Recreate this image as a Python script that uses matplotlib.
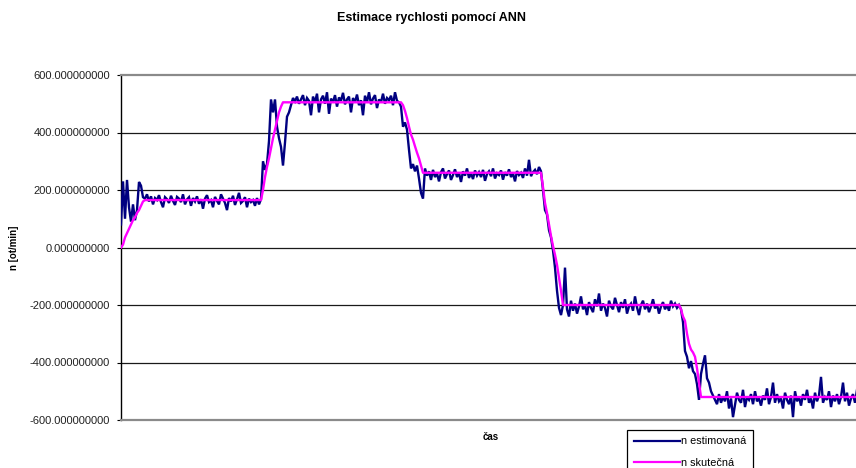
import matplotlib
matplotlib.use("Agg")
import matplotlib.pyplot as plt
import numpy as np
from matplotlib.ticker import FixedLocator, FuncFormatter

plt.rcParams['font.family'] = ['Liberation Sans', 'DejaVu Sans']

title = "Estimace rychlosti pomocí ANN"
ylabel = "n [ot/min]"
xlabel = "čas"
label_est = "n estimovaná"
label_ref = "n skutečná"
yticks = [-600, -400, -200, 0, 200, 400, 600]

# estimated speed from the network, one value per sample
n_est = [
    80, 230, 100, 235, 140, 90, 150, 95, 130, 228,
    215, 175, 170, 185, 160, 178, 150, 172, 165, 182,
    158, 140, 175, 168, 155, 180, 162, 148, 176, 170,
    158, 185, 150, 167, 175, 145, 172, 160, 178, 152,
    168, 135, 170, 182, 158, 165, 140, 176, 162, 150,
    185, 170, 155, 130, 172, 160, 180, 148, 168, 190,
    155, 162, 175, 140, 170, 158, 165, 145, 172, 150,
    168, 300, 270, 290, 370, 515, 470, 515, 420, 380,
    350, 285, 365, 455, 470, 495, 520, 508, 525, 500,
    515, 530, 495, 520, 510, 460, 525, 505, 535, 470,
    515, 528, 500, 540, 465, 518, 505, 530, 490, 522,
    510, 538, 498, 515, 525, 470, 520, 505, 532, 495,
    512, 460, 528, 505, 540, 498, 518, 530, 485, 515,
    505, 535, 500, 520, 512, 528, 495, 540, 510, 505,
    490, 420, 435, 410, 340, 275, 290, 265, 285, 240,
    190, 170, 275, 250, 265, 235, 270, 245, 258, 230,
    262, 275, 240, 255, 268, 235, 252, 272, 245, 260,
    228, 265, 250, 275, 242, 258, 238, 268, 250, 262,
    245, 270, 232, 255, 265, 248, 275, 240, 258, 252,
    268, 236, 262, 250, 272, 245, 258, 230, 266, 252,
    260, 242, 275, 250, 305, 248, 262, 270, 255, 280,
    265, 200, 130, 115, 60, 35, -10, -70, -150, -210,
    -235, -200, -70, -215, -240, -185, -220, -195, -230, -205,
    -170, -215, -200, -235, -190, -210, -225, -180, -205, -160,
    -220, -195, -210, -240, -185, -205, -215, -175, -200, -225,
    -190, -210, -180, -230, -205, -195, -220, -170, -208, -235,
    -200, -185, -215, -195, -225, -205, -180, -212, -198, -230,
    -205, -190, -215, -200, -220, -185, -205, -195, -210, -200,
    -215, -260, -360, -380, -420, -395, -430, -440, -475, -530,
    -440, -405, -375, -455, -470, -500, -515, -530, -545, -510,
    -540, -520, -535, -500, -560, -525, -590, -548, -505, -530,
    -540, -495, -555, -520, -530, -510, -545, -500, -535, -525,
    -550, -515, -530, -490, -545, -520, -470, -540, -510, -535,
    -525, -560, -505, -530, -545, -515, -590, -500, -535, -520,
    -550, -510, -530, -495, -540, -525, -560, -505, -535, -515,
    -450, -540, -520, -530, -500, -555, -515, -535, -510, -545,
    -520, -470, -535, -505, -550, -525, -510, -540, -495, -530,
]

# reference (actual) speed: sample index and value at each step
ref_t = [0, 1, 2, 3, 4, 5, 6, 7, 8, 9, 10, 11, 12,
         70, 71, 72, 73, 74, 75, 76, 77, 78, 79, 80, 81,
         140, 141, 142, 143, 144, 145, 146, 147, 148, 149, 150, 151,
         210, 211, 212, 213, 214, 215, 216, 217, 218, 219, 220, 221,
         279, 280, 281, 282, 283, 284, 285, 286, 287, 288, 289, 290,
         369]
ref_v = [0, 10, 35, 50, 65, 80, 95, 105, 120, 130, 145, 160, 165,
         165, 200, 245, 280, 310, 345, 380, 410, 440, 470, 490, 505,
         505, 495, 475, 450, 420, 393, 375, 352, 330, 310, 285, 260,
         260, 210, 155, 120, 80, 40, 5, -25, -60, -105, -150, -200,
         -200, -215, -240, -255, -300, -335, -355, -365, -380, -420, -470, -520,
         -520]

W, H = 856, 468
fig = plt.figure(figsize=(W / 100, H / 100), dpi=100)
ax = fig.add_axes([121 / W, (H - 420) / H, 739 / W, 345 / H])

t_est = np.arange(len(n_est))
ax.plot(t_est, n_est, color='#000080', lw=1.7, zorder=3, label=label_est,
        solid_joinstyle='miter')
ax.plot(ref_t, ref_v, color='#FF00FF', lw=1.7, zorder=4, label=label_ref)

ax.set_xlim(0, 369.5)
ax.set_ylim(-600, 600)
ax.yaxis.set_major_locator(FixedLocator(yticks))
ax.yaxis.set_major_formatter(FuncFormatter(lambda v, p: f"{v:.9f}"))
ax.set_xticks([])
ax.tick_params(axis='y', length=3, width=0.8, pad=5, labelsize=8,
               colors='black', labelcolor='#222222')

for v in yticks[1:-1]:
    ax.axhline(v, color='#1a1a1a', lw=0.9, zorder=1)

ax.spines['top'].set_color('#8a8a8a')
ax.spines['top'].set_linewidth(1.6)
ax.spines['bottom'].set_color('#8a8a8a')
ax.spines['bottom'].set_linewidth(1.6)
ax.spines['left'].set_color('black')
ax.spines['left'].set_linewidth(1.0)
ax.spines['right'].set_visible(False)

fig.text(432 / W, 1 - 18 / H, title, ha='center', va='center',
         fontsize=9, fontweight='bold')
fig.text(14 / W, 1 - 248 / H, ylabel, ha='center', va='center',
         rotation=90, fontsize=7, fontweight='bold')
fig.text(491 / W, 1 - 437 / H, xlabel, ha='center', va='center',
         fontsize=7, fontweight='bold')

leg = fig.legend(loc='upper left', bbox_to_anchor=(627 / W, 1 - 430 / H),
                 bbox_transform=fig.transFigure, borderaxespad=0,
                 fontsize=7.8, frameon=True, fancybox=False, framealpha=1,
                 edgecolor='black', handlelength=4.3, handletextpad=0.1,
                 labelspacing=1.05, borderpad=0.6)
leg.get_frame().set_linewidth(0.9)
for line in leg.get_lines():
    line.set_linewidth(1.6)

fig.savefig("out.png", dpi=100)
